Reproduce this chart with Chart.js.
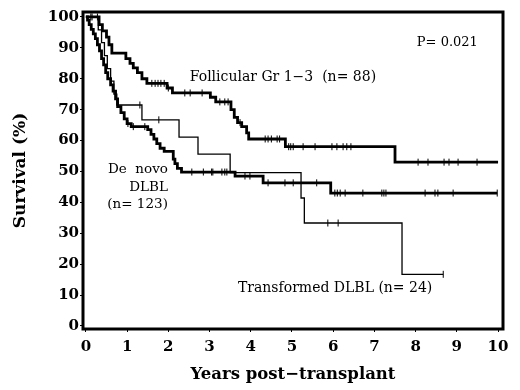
<!DOCTYPE html>
<html>
<head>
<meta charset="utf-8">
<script src="https://cdn.jsdelivr.net/npm/chart.js@4.4.0/dist/chart.umd.min.js"></script>
<style>
  html, body { margin: 0; padding: 0; background: #fff; }
</style>
</head>
<body>
<canvas id="km" width="520" height="390"></canvas>
<script>
/* ---------- data ---------- */
// Follicular Gr 1-3 (n=88): time of each step (years) and survival after it (%)
const folTimes = [0, 0.32, 0.4, 0.5, 0.56, 0.63, 0.97, 1.07, 1.15, 1.25, 1.36, 1.48, 1.97, 2.1, 3.02, 3.15, 3.52, 3.6, 3.68, 3.78, 3.9, 3.95, 4.84, 7.5, 10.0];
const folSurv  = [100, 97.5, 95.5, 93.5, 91, 88.3, 86.5, 85, 83.5, 82, 80, 78.5, 77, 75.4, 74, 72.5, 70, 67.5, 65.8, 64.5, 62.5, 60.5, 58, 53, 53];
const folCensor = [0.12, 0.28, 1.6, 1.68, 1.75, 1.82, 1.9, 2.0, 2.4, 2.53, 2.82, 3.25, 3.37, 3.45, 3.74, 4.35, 4.42, 4.5, 4.64, 4.7, 4.92, 4.97, 5.03, 5.27, 5.56, 5.97, 6.09, 6.24, 6.33, 6.43, 8.06, 8.3, 8.69, 8.81, 9.03, 9.49];

// De novo DLBL (n=123)
const dnTimes = [0, 0.04, 0.08, 0.13, 0.18, 0.23, 0.28, 0.33, 0.38, 0.43, 0.48, 0.53, 0.6, 0.66, 0.72, 0.77, 0.85, 0.93, 1.0, 1.1, 1.5, 1.58, 1.65, 1.72, 1.8, 1.9, 2.12, 2.16, 2.22, 2.32, 3.62, 4.3, 5.94, 9.98];
const dnSurv  = [100, 99, 97.5, 96, 94.5, 93, 91, 89, 86.5, 84.5, 82, 80, 78, 76, 73.5, 71, 69, 67, 65.5, 64.5, 63.5, 62, 60.5, 59, 57.5, 56.5, 54, 52.5, 51, 49.8, 48.5, 46.3, 43, 43];
const dnCensor = [1.02, 1.15, 1.43, 2.57, 2.85, 3.05, 3.08, 3.3, 3.37, 3.42, 3.86, 3.98, 4.42, 4.83, 5.03, 5.6, 6.04, 6.1, 6.17, 6.29, 6.72, 7.18, 7.23, 7.28, 8.23, 8.47, 8.54, 8.91, 9.98];

// Transformed DLBL (n=24)
const trTimes = [0, 0.3, 0.38, 0.45, 0.52, 0.6, 0.68, 0.75, 1.36, 2.26, 2.72, 3.5, 5.22, 5.3, 7.67, 8.67];
const trSurv  = [100, 95.8, 91.7, 87.5, 83.3, 79.2, 75, 71.5, 66.7, 61.1, 55.6, 49.6, 41.4, 33.3, 16.7, 16.7];
const trCensor = [0.15, 1.31, 1.77, 5.87, 6.12, 8.67];

const xTicks = [0, 1, 2, 3, 4, 5, 6, 7, 8, 9, 10];
const yTicks = [0, 10, 20, 30, 40, 50, 60, 70, 80, 90, 100];

/* ---------- helpers ---------- */
const serif = 'DejaVu Serif';

function puntos(times, surv) {
    return times.map((t, i) => ({ x: t, y: surv[i] }));
}

// survival value of the step curve at time t (for censor marks)
function survEm(times, surv, t) {
    let s = surv[0];
    for (let i = 0; i < times.length; i++) {
        if (times[i] <= t) s = surv[i];
    }
    return s;
}

function marcas(times, surv, censor) {
    return censor.map(t => ({ x: t, y: survEm(times, surv, t) }));
}

function curva(label, times, surv, width) {
    return {
        label: label,
        type: 'line',
        data: puntos(times, surv),
        stepped: 'before',
        borderColor: '#000',
        borderWidth: width,
        pointRadius: 0,
        fill: false
    };
}

function censura(times, surv, censor) {
    return {
        type: 'scatter',
        data: marcas(times, surv, censor),
        pointStyle: 'line',
        rotation: 90,
        pointRadius: 3.5,
        borderColor: '#000',
        borderWidth: 1,
        showLine: false
    };
}

/* ---------- annotations + frame ---------- */
const textos = {
    id: 'textos',
    afterDatasetsDraw(chart) {
        const { ctx, chartArea, scales: { x, y } } = chart;
        ctx.save();
        ctx.fillStyle = '#000';
        ctx.textBaseline = 'middle';

        ctx.textAlign = 'left';
        ctx.font = '13px "' + serif + '"';
        ctx.fillText('P= 0.021', x.getPixelForValue(8.03), y.getPixelForValue(91.6));
        ctx.font = '14px "' + serif + '"';
        ctx.fillText('Follicular Gr 1\u22123  (n= 88)', x.getPixelForValue(2.52), y.getPixelForValue(80.5));
        ctx.fillText('Transformed DLBL (n= 24)', x.getPixelForValue(3.69), y.getPixelForValue(12.3));

        ctx.textAlign = 'right';
        ctx.font = '13.5px "' + serif + '"';
        const xr = x.getPixelForValue(1.99);
        ctx.fillText('De  novo', xr, y.getPixelForValue(50.5));
        ctx.fillText('DLBL', xr, y.getPixelForValue(44.8));
        ctx.fillText('(n= 123)', xr, y.getPixelForValue(39.4));

        // thick box round the plot
        ctx.lineWidth = 3;
        ctx.strokeStyle = '#000';
        ctx.strokeRect(chartArea.left, chartArea.top, chartArea.right - chartArea.left, chartArea.bottom - chartArea.top);
        ctx.restore();
    }
};

/* ---------- chart ---------- */
new Chart(document.getElementById('km').getContext('2d'), {
    type: 'line',
    data: {
        datasets: [
            curva('Follicular Gr 1-3', folTimes, folSurv, 2.8),
            curva('De novo DLBL', dnTimes, dnSurv, 2.8),
            curva('Transformed DLBL', trTimes, trSurv, 1.3),
            censura(folTimes, folSurv, folCensor),
            censura(dnTimes, dnSurv, dnCensor),
            censura(trTimes, trSurv, trCensor)
        ]
    },
    options: {
        responsive: false,
        animation: false,
        layout: { padding: { top: 12, right: 17, left: 0, bottom: 0 } },
        plugins: {
            legend: { display: false },
            tooltip: { enabled: false }
        },
        scales: {
            x: {
                type: 'linear',
                min: -0.07,
                max: 10.12,
                afterBuildTicks: s => { s.ticks = xTicks.map(v => ({ value: v })); },
                afterFit: s => { s.height = 61; },
                ticks: {
                    color: '#000',
                    padding: 6,
                    maxRotation: 0,
                    font: { family: serif, size: 15, weight: 'bold' }
                },
                grid: { drawOnChartArea: false, tickLength: 3, color: '#000', tickWidth: 1 },
                border: { display: false },
                title: {
                    display: true,
                    text: 'Years post\u2212transplant',
                    color: '#000',
                    padding: { top: 0, bottom: 5 },
                    font: { family: serif, size: 16.5, weight: 'bold' }
                }
            },
            y: {
                type: 'linear',
                min: -1,
                max: 101.6,
                afterBuildTicks: s => { s.ticks = yTicks.map(v => ({ value: v })); },
                afterFit: s => { s.width = 83; },
                ticks: {
                    color: '#000',
                    padding: 1,
                    font: { family: serif, size: 15, weight: 'bold' }
                },
                grid: { drawOnChartArea: false, tickLength: 3, color: '#000', tickWidth: 1 },
                border: { display: false },
                title: {
                    display: true,
                    text: 'Survival (%)',
                    color: '#000',
                    padding: { top: 10, bottom: 0 },
                    font: { family: serif, size: 17, weight: 'bold' }
                }
            }
        }
    },
    plugins: [textos]
});
</script>
</body>
</html>
